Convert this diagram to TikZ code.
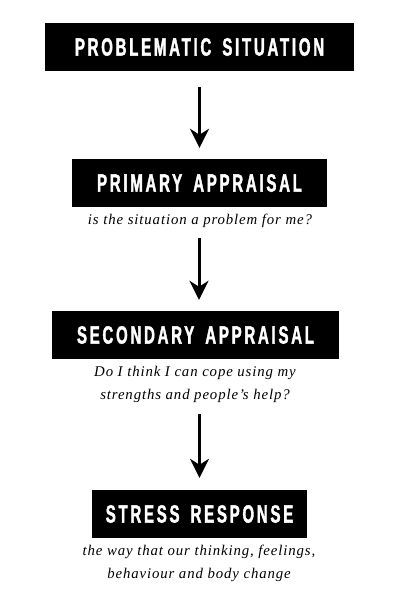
\documentclass[tikz,border=0pt]{standalone}
\usepackage{fontspec}
\usetikzlibrary{arrows.meta}
\newfontfamily\headfont[FakeStretch=0.6,LetterSpace=11,WordSpace=1.6,FakeBold=1.5]{Liberation Sans Bold}
\newfontfamily\subfont[LetterSpace=6]{Liberation Serif Italic}
\begin{document}
\begin{tikzpicture}[x=1pt,y=-1pt,
  boxnode/.style={fill=black,text=white,minimum height=48pt,inner sep=0pt,font=\headfont\fontsize{25}{25}\selectfont},
  subnode/.style={align=center,inner sep=0pt,font=\subfont\fontsize{14.8}{23}\selectfont},
  arr/.style={line width=3pt,-{Stealth[length=19pt,width=19pt,inset=6pt]}}]
\useasboundingbox[fill=white] (0,0) rectangle (400,600);
\node[boxnode,minimum width=309pt] (b1) at (199.5,47) {PROBLEMATIC SITUATION};
\node[boxnode,minimum width=255pt] (b2) at (199.5,183) {PRIMARY APPRAISAL};
\node[subnode] (s2) at (200,221) {is the situation a problem for me?};
\node[boxnode,minimum width=287pt] (b3) at (195.5,335) {SECONDARY APPRAISAL};
\node[subnode] (s3) at (195,384) {Do I think I can cope using my\\strengths and people’s help?};
\node[boxnode,minimum width=215pt] (b4) at (199.5,514) {STRESS RESPONSE};
\node[subnode] (s4) at (199,563) {the way that our thinking, feelings,\\behaviour and body change};
\draw[arr,shorten <=16pt,shorten >=11pt] (b1.south) -- (b2.north);
\draw[arr,shorten <=10pt,shorten >=11pt] (s2.south -| 199,0) -- (b3.north -| 199,0);
\draw[arr,shorten <=12pt,shorten >=12pt] (b4.north |- s3.south) -- (b4.north);
\end{tikzpicture}
\end{document}
